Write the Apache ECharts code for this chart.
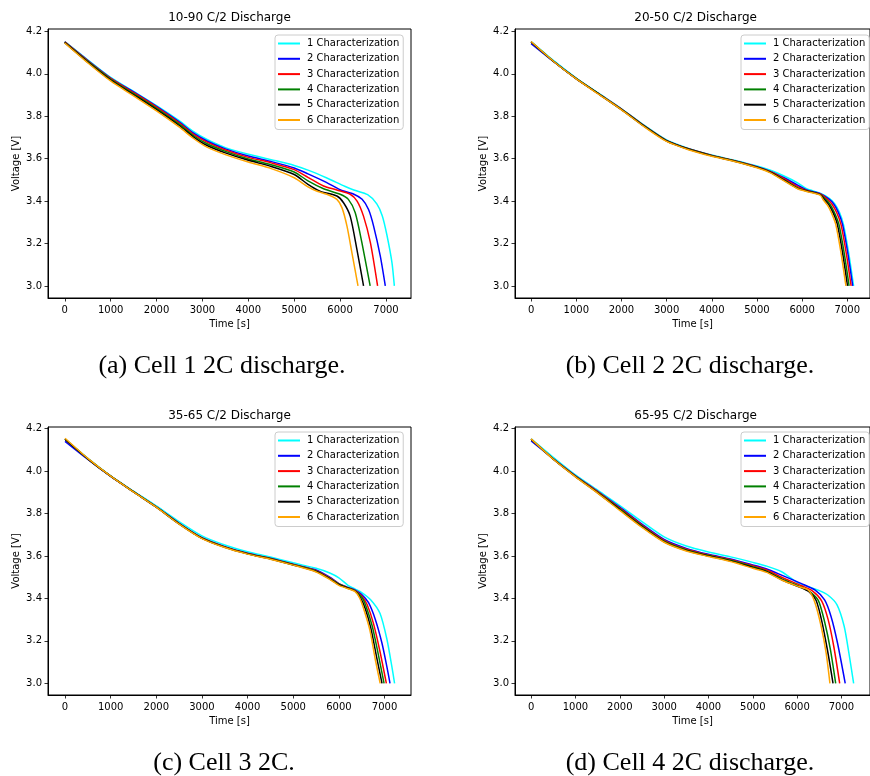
<!DOCTYPE html>
<html>
<head>
<meta charset="utf-8">
<script src="https://cdn.jsdelivr.net/npm/echarts@6/dist/echarts.min.js"></script>
<style>
html, body { margin: 0; padding: 0; background: #fff; }
#chart { width: 870px; height: 776px; }
</style>
</head>
<body>
<div id="chart"></div>
<script>
// legend names and colours (matplotlib defaults used in the figure)
var names = ['1 Characterization', '2 Characterization', '3 Characterization',
             '4 Characterization', '5 Characterization', '6 Characterization'];
var colors = ['#00ffff', '#0000ff', '#ff0000', '#008000', '#000000', '#ffa500'];

var titles = ['10-90 C/2 Discharge', '20-50 C/2 Discharge', '35-65 C/2 Discharge', '65-95 C/2 Discharge'];
var captions = ['(a) Cell 1 2C discharge.', '(b) Cell 2 2C discharge.', '(c) Cell 3 2C.', '(d) Cell 4 2C discharge.'];

var xTicks = [0, 1000, 2000, 3000, 4000, 5000, 6000, 7000];
var yTicks = [3.0, 3.2, 3.4, 3.6, 3.8, 4.0, 4.2];

// (a) 10-90  [time s, voltage V]
var a1 = [[0,4.152],[500,4.066],[1000,3.983],[1500,3.917],[2000,3.85],[2500,3.778],[2800,3.728],[3100,3.69],[3500,3.652],[4000,3.621],[4500,3.595],[5000,3.568],[5300,3.546],[5700,3.51],[6100,3.47],[6300,3.452],[6600,3.43],[6800,3.387],[6920,3.33],[7020,3.24],[7130,3.11],[7182,3.0]];
var a2 = [[0,4.15],[500,4.063],[1000,3.98],[1500,3.914],[2000,3.846],[2500,3.772],[2800,3.721],[3100,3.683],[3500,3.646],[4000,3.612],[4500,3.586],[5000,3.556],[5300,3.528],[5700,3.488],[6000,3.453],[6300,3.432],[6480,3.408],[6620,3.36],[6730,3.282],[6876,3.14],[6985,3.0]];
var a3 = [[0,4.15],[500,4.061],[1000,3.978],[1500,3.911],[2000,3.843],[2500,3.768],[2800,3.716],[3100,3.678],[3500,3.641],[4000,3.606],[4500,3.58],[5000,3.548],[5300,3.512],[5640,3.471],[5930,3.452],[6220,3.432],[6370,3.40],[6510,3.329],[6660,3.204],[6817,3.0]];
var a4 = [[0,4.148],[500,4.058],[1000,3.974],[1500,3.906],[2000,3.837],[2500,3.761],[2800,3.709],[3100,3.67],[3500,3.634],[4000,3.598],[4500,3.571],[5000,3.537],[5300,3.495],[5640,3.458],[6000,3.432],[6180,3.408],[6330,3.345],[6475,3.204],[6655,3.0]];
var a5 = [[0,4.147],[500,4.055],[1000,3.97],[1500,3.901],[2000,3.831],[2500,3.755],[2800,3.703],[3100,3.662],[3500,3.627],[4000,3.592],[4500,3.563],[5000,3.525],[5300,3.479],[5560,3.447],[5930,3.424],[6075,3.392],[6220,3.329],[6366,3.172],[6511,3.0]];
var a6 = [[0,4.145],[500,4.052],[1000,3.966],[1500,3.896],[2000,3.825],[2500,3.748],[2800,3.696],[3100,3.654],[3500,3.619],[4000,3.584],[4500,3.553],[5000,3.51],[5300,3.467],[5500,3.446],[5710,3.432],[5930,3.408],[6040,3.369],[6150,3.282],[6257,3.157],[6390,3.0]];

// (b) 20-50
var b1 = [[0,4.152],[500,4.062],[1000,3.98],[1500,3.907],[2000,3.835],[2500,3.758],[3000,3.688],[3500,3.647],[4000,3.617],[4500,3.592],[5000,3.565],[5300,3.545],[5600,3.518],[5900,3.486],[6100,3.458],[6400,3.437],[6610,3.412],[6720,3.388],[6820,3.35],[6915,3.29],[7030,3.157],[7140,3.0]];
var b2 = [[0,4.142],[500,4.057],[1000,3.977],[1500,3.905],[2000,3.833],[2500,3.755],[3000,3.685],[3500,3.645],[4000,3.615],[4500,3.59],[5000,3.562],[5300,3.54],[5600,3.51],[5900,3.475],[6100,3.452],[6400,3.435],[6590,3.41],[6700,3.386],[6800,3.348],[6895,3.29],[7010,3.157],[7120,3.0]];
var b3 = [[0,4.15],[500,4.058],[1000,3.977],[1500,3.905],[2000,3.833],[2500,3.755],[3000,3.685],[3500,3.645],[4000,3.615],[4500,3.59],[5000,3.561],[5300,3.538],[5600,3.505],[5900,3.468],[6100,3.45],[6400,3.433],[6560,3.408],[6665,3.384],[6765,3.346],[6860,3.29],[6975,3.157],[7085,3.0]];
var b4 = [[0,4.15],[500,4.058],[1000,3.977],[1500,3.905],[2000,3.832],[2500,3.754],[3000,3.684],[3500,3.644],[4000,3.614],[4500,3.589],[5000,3.56],[5300,3.536],[5600,3.5],[5900,3.462],[6100,3.448],[6400,3.43],[6530,3.406],[6625,3.382],[6720,3.344],[6815,3.29],[6930,3.157],[7040,3.0]];
var b5 = [[0,4.15],[500,4.058],[1000,3.976],[1500,3.904],[2000,3.831],[2500,3.753],[3000,3.683],[3500,3.643],[4000,3.613],[4500,3.588],[5000,3.559],[5300,3.535],[5600,3.498],[5900,3.46],[6100,3.447],[6400,3.43],[6500,3.405],[6595,3.381],[6690,3.343],[6780,3.29],[6895,3.157],[7005,3.0]];
var b6 = [[0,4.152],[500,4.058],[1000,3.976],[1500,3.903],[2000,3.83],[2500,3.751],[3000,3.681],[3500,3.641],[4000,3.611],[4500,3.586],[5000,3.557],[5300,3.533],[5600,3.495],[5900,3.458],[6100,3.445],[6400,3.428],[6470,3.405],[6565,3.38],[6655,3.342],[6745,3.29],[6860,3.157],[6970,3.0]];

// (c) 35-65
var c1 = [[0,4.152],[500,4.06],[1000,3.978],[1500,3.906],[2000,3.836],[2500,3.762],[3000,3.695],[3500,3.652],[4000,3.62],[4500,3.595],[5000,3.568],[5500,3.542],[5800,3.52],[6000,3.497],[6200,3.462],[6350,3.445],[6500,3.428],[6700,3.393],[6900,3.33],[7050,3.21],[7160,3.08],[7220,3.0]];
var c2 = [[0,4.14],[500,4.055],[1000,3.975],[1500,3.903],[2000,3.832],[2500,3.754],[3000,3.686],[3500,3.644],[4000,3.613],[4500,3.589],[5000,3.561],[5500,3.534],[5800,3.5],[6000,3.47],[6200,3.452],[6350,3.44],[6500,3.418],[6650,3.38],[6800,3.3],[6943,3.19],[7050,3.08],[7120,3.0]];
var c3 = [[0,4.15],[500,4.058],[1000,3.976],[1500,3.903],[2000,3.832],[2500,3.753],[3000,3.685],[3500,3.643],[4000,3.612],[4500,3.588],[5000,3.56],[5500,3.531],[5800,3.497],[6000,3.468],[6200,3.45],[6350,3.438],[6500,3.412],[6620,3.37],[6760,3.28],[6900,3.15],[7040,3.0]];
var c4 = [[0,4.15],[500,4.058],[1000,3.976],[1500,3.903],[2000,3.831],[2500,3.752],[3000,3.684],[3500,3.642],[4000,3.611],[4500,3.587],[5000,3.559],[5500,3.529],[5800,3.494],[6000,3.467],[6200,3.449],[6350,3.436],[6500,3.406],[6600,3.36],[6730,3.27],[6860,3.14],[6990,3.0]];
var c5 = [[0,4.15],[500,4.058],[1000,3.976],[1500,3.902],[2000,3.83],[2500,3.751],[3000,3.683],[3500,3.641],[4000,3.61],[4500,3.586],[5000,3.558],[5500,3.527],[5800,3.492],[6000,3.465],[6200,3.448],[6350,3.435],[6480,3.40],[6580,3.35],[6700,3.26],[6830,3.12],[6945,3.0]];
var c6 = [[0,4.155],[500,4.06],[1000,3.976],[1500,3.902],[2000,3.83],[2500,3.75],[3000,3.682],[3500,3.64],[4000,3.609],[4500,3.585],[5000,3.557],[5500,3.525],[5800,3.49],[6000,3.462],[6200,3.446],[6350,3.433],[6460,3.40],[6560,3.34],[6680,3.25],[6800,3.11],[6905,3.0]];

// (d) 65-95
var d1 = [[0,4.152],[500,4.065],[1000,3.982],[1500,3.91],[2000,3.838],[2500,3.762],[3000,3.69],[3500,3.647],[4000,3.619],[4500,3.596],[5000,3.57],[5300,3.553],[5650,3.526],[6000,3.476],[6250,3.455],[6500,3.437],[6700,3.415],[6900,3.37],[7060,3.27],[7170,3.14],[7275,3.0]];
var d2 = [[0,4.142],[500,4.058],[1000,3.978],[1500,3.905],[2000,3.83],[2500,3.75],[3000,3.678],[3500,3.636],[4000,3.608],[4500,3.586],[5000,3.558],[5300,3.54],[5650,3.51],[6100,3.47],[6400,3.44],[6620,3.393],[6765,3.315],[6911,3.19],[7085,3.0]];
var d3 = [[0,4.15],[500,4.058],[1000,3.977],[1500,3.903],[2000,3.826],[2500,3.746],[3000,3.674],[3500,3.632],[4000,3.605],[4500,3.583],[5000,3.554],[5300,3.535],[5650,3.5],[6100,3.46],[6350,3.435],[6550,3.39],[6700,3.3],[6830,3.17],[6960,3.0]];
var d4 = [[0,4.15],[500,4.057],[1000,3.975],[1500,3.9],[2000,3.822],[2500,3.742],[3000,3.67],[3500,3.629],[4000,3.602],[4500,3.58],[5000,3.55],[5300,3.53],[5650,3.492],[6100,3.453],[6300,3.43],[6480,3.39],[6620,3.29],[6750,3.16],[6870,3.0]];
var d5 = [[0,4.15],[500,4.056],[1000,3.974],[1500,3.898],[2000,3.818],[2500,3.738],[3000,3.667],[3500,3.626],[4000,3.6],[4500,3.577],[5000,3.546],[5300,3.527],[5650,3.488],[6100,3.45],[6280,3.43],[6430,3.39],[6560,3.29],[6690,3.15],[6810,3.0]];
var d6 = [[0,4.152],[500,4.056],[1000,3.973],[1500,3.896],[2000,3.815],[2500,3.735],[3000,3.665],[3500,3.624],[4000,3.598],[4500,3.574],[5000,3.542],[5300,3.524],[5650,3.487],[6030,3.456],[6250,3.44],[6395,3.385],[6543,3.268],[6654,3.143],[6740,3.0]];

var panelData = [[a1, a2, a3, a4, a5, a6], [b1, b2, b3, b4, b5, b6],
                 [c1, c2, c3, c4, c5, c6], [d1, d2, d3, d4, d5, d6]];

// layout of the four subplots (pixel positions match the matplotlib axes)
var grids = [
  { left: 48, top: 29, width: 363, height: 269 },
  { left: 515, top: 29, width: 362, height: 269 },
  { left: 48, top: 427, width: 363, height: 268 },
  { left: 515, top: 427, width: 362, height: 268 }
];
var xRanges = [[-365, 7545], [-357, 7503], [-373, 7580], [-364, 7644]];
var yRanges = [[2.943, 4.211], [2.943, 4.211], [2.945, 4.208], [2.945, 4.208]];
var legendPos = [[275, 35], [741, 35], [275, 432], [741, 432]];
var titlePos = [[229.5, 18], [695.6, 18], [229.5, 415.7], [695.6, 415.7]];
var captionPos = [[222, 366], [690, 366], [224, 763], [690, 763]];

var FONT = '"DejaVu Sans", sans-serif';

var myChart = echarts.init(document.getElementById('chart'), null, { renderer: 'canvas' });

var option = {
  animation: false,
  backgroundColor: '#fff',
  grid: [],
  xAxis: [],
  yAxis: [],
  legend: [],
  series: [],
  graphic: []
};

for (var p = 0; p < 4; p++) {
  option.grid.push(Object.assign({
    show: true, borderColor: '#000', borderWidth: 1, backgroundColor: 'transparent', containLabel: false
  }, grids[p]));

  option.xAxis.push({
    type: 'value', gridIndex: p, min: xRanges[p][0], max: xRanges[p][1],
    name: 'Time [s]', nameLocation: 'middle', nameGap: 21,
    nameTextStyle: { fontFamily: FONT, fontSize: 10, color: '#000' },
    axisLine: { show: true, onZero: false, lineStyle: { color: '#000', width: 1 } },
    axisTick: { show: true, length: 3.5, customValues: xTicks, lineStyle: { color: '#000', width: 0.8 } },
    axisLabel: {
      customValues: xTicks, margin: 7, fontFamily: FONT, fontSize: 10, color: '#000',
      formatter: function (v) { return String(v); }
    },
    splitLine: { show: false }
  });

  option.yAxis.push({
    type: 'value', gridIndex: p, min: yRanges[p][0], max: yRanges[p][1],
    name: 'Voltage [V]', nameLocation: 'middle', nameGap: 27,
    nameTextStyle: { fontFamily: FONT, fontSize: 10, color: '#000' },
    axisLine: { show: true, onZero: false, lineStyle: { color: '#000', width: 1 } },
    axisTick: { show: true, length: 3.5, customValues: yTicks, lineStyle: { color: '#000', width: 0.8 } },
    axisLabel: {
      customValues: yTicks, margin: 6, fontFamily: FONT, fontSize: 10, color: '#000',
      formatter: function (v) { return v.toFixed(1); }
    },
    splitLine: { show: false }
  });

  for (var s = 0; s < 6; s++) {
    option.series.push({
      type: 'line',
      id: names[s] + ' ' + p,
      name: names[s],
      xAxisIndex: p,
      yAxisIndex: p,
      data: panelData[p][s],
      showSymbol: false,
      symbol: 'none',
      smooth: 0.25,
      clip: true,
      color: colors[s],
      lineStyle: { color: colors[s], width: 1.5 }
    });
  }

  option.legend.push({
    orient: 'vertical',
    left: legendPos[p][0],
    top: legendPos[p][1],
    data: names.map(function (n) { return { name: n, icon: 'rect' }; }),
    itemWidth: 22,
    itemHeight: 2,
    itemGap: 2.3,
    padding: [2, 4, 3, 3],
    borderColor: '#cccccc',
    borderWidth: 1,
    borderRadius: 3,
    backgroundColor: 'rgba(255,255,255,0.8)',
    selectedMode: false,
    textStyle: { fontFamily: FONT, fontSize: 10, lineHeight: 13, color: '#000', padding: [0, 0, 0, 2] }
  });

  option.graphic.push({
    type: 'text', x: titlePos[p][0], y: titlePos[p][1],
    style: { text: titles[p], fontFamily: FONT, fontSize: 12, fill: '#000', align: 'center', verticalAlign: 'middle' }
  });
  option.graphic.push({
    type: 'text', x: captionPos[p][0], y: captionPos[p][1],
    style: { text: captions[p], fontFamily: '"Liberation Serif", serif', fontSize: 26, fill: '#000', align: 'center', verticalAlign: 'middle' }
  });
}

myChart.setOption(option);
</script>
</body>
</html>
